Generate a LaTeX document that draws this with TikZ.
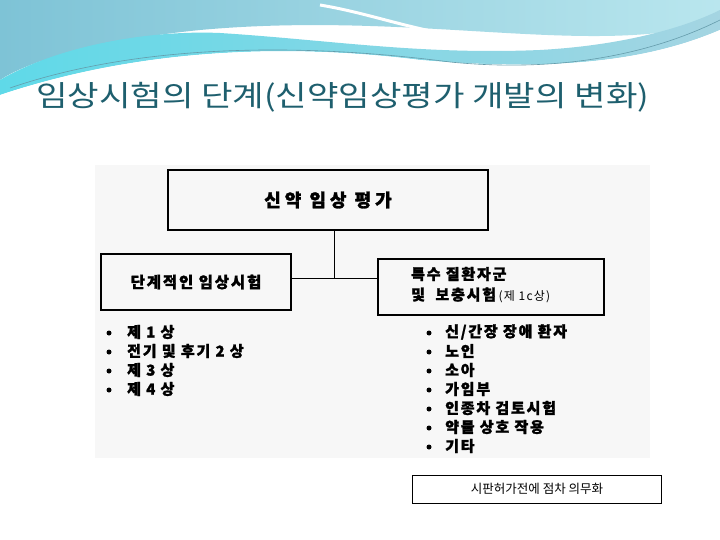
\documentclass[tikz,border=0pt]{standalone}
\usepackage{fontspec}
\newfontfamily\cjk{Noto Sans CJK KR}
\newfontfamily\cjkb{Noto Sans CJK KR}[FakeBold=1.5,LetterSpace=12]
\newfontfamily\cjkbb{Noto Sans CJK KR}[FakeBold=1.5,LetterSpace=22]
\newfontfamily\cjkr{Noto Sans CJK KR}[LetterSpace=10]
\definecolor{titlec}{HTML}{1E5F6E}
\definecolor{wa}{HTML}{7EC3D6}
\definecolor{wb}{HTML}{B9E6EE}
\definecolor{wc}{HTML}{5FD9E8}
\tikzset{box/.style={draw,line width=1.4pt,inner sep=0pt},
 item/.style={anchor=west,font=\cjkb\bfseries\fontsize{15}{15}\selectfont,inner sep=0pt},
 dot/.style={circle,fill=black,inner sep=0pt,minimum size=5pt}}
\begin{document}
\begin{tikzpicture}[x=1pt,y=-1pt]
\useasboundingbox (0,0) rectangle (720,540);
\fill[white] (0,0) rectangle (720,540);
% header waves
\shade[left color=wa,right color=wb] (0,0) -- (720,0) -- (720,20) .. controls (600,60) and (420,10) .. (200,30) .. controls (100,40) and (30,60) .. (0,80) -- cycle;
\shade[left color=wc,right color=wa!70] (0,80) .. controls (60,45) and (150,30) .. (220,33) .. controls (330,40) and (420,55) .. (540,50) .. controls (630,45) and (690,25) .. (720,10) -- (720,30) .. controls (650,60) and (560,72) .. (420,60) .. controls (300,45) and (150,45) .. (0,95) -- cycle;
\fill[white] (0,95) .. controls (150,45) and (300,45) .. (420,60) .. controls (560,72) and (650,60) .. (720,30) -- (720,540) -- (0,540) -- cycle;
\draw[wa!80!black,line width=0.6pt] (10,88) .. controls (150,40) and (320,45) .. (450,62) .. controls (580,75) and (670,45) .. (720,20);
\draw[white,line width=3pt] (320,5) .. controls (380,15) and (420,35) .. (520,45);
\node[font=\cjk\fontsize{29}{29}\selectfont,text=titlec,anchor=west,inner sep=0pt,xscale=1.18] (title) at (36,97) {임상시험의 단계(신약임상평가 개발의 변화)};
% image area
\fill[black!3] (95,165) rectangle (650,458);
\node[box,minimum width=320pt,minimum height=60pt] (top) at (328,200) {\cjkbb\bfseries\fontsize{18}{18}\selectfont 신약 임상 평가};
\node[box,minimum width=190pt,minimum height=56pt] (left) at (196,282) {\cjkb\bfseries\fontsize{15.5}{15.5}\selectfont 단계적인 임상시험};
\node[box,minimum width=226pt,minimum height=56pt] (right) at (491,287) {};
\node[item] (r1) at (411,274) {특수 질환자군};
\node[item] (r2) at (411,295) {및\ \ 보충시험\,\normalfont\cjkr\fontsize{12}{12}\selectfont(제 1c상)};
\coordinate (j) at (334,278);
\draw[line width=1pt] (top.south -| j) -- (j);
\draw[line width=1pt] (left.east |- j) -- (right.west |- j);
\foreach \t [count=\i] in {제 1 상,전기 및 후기 2 상,제 3 상,제 4 상}{
  \node[dot] (ld\i) at (109,333+19*\i-19) {};
  \node[item] (l\i) at (127,332+19*\i-19) {\t};}
\foreach \t [count=\i] in {신/간장 장애 환자,노인,소아,가임부,인종차 검토시험,약물 상호 작용,기타}{
  \node[dot] (rd\i) at (429,333+19*\i-19) {};
  \node[item] (ri\i) at (445,332+19*\i-19) {\t};}
\node[draw,line width=0.6pt,minimum width=249pt,minimum height=28pt,font=\cjk\fontsize{12.5}{12.5}\selectfont] (note) at (537,489) {시판허가전에 점차 의무화};
\end{tikzpicture}
\end{document}
